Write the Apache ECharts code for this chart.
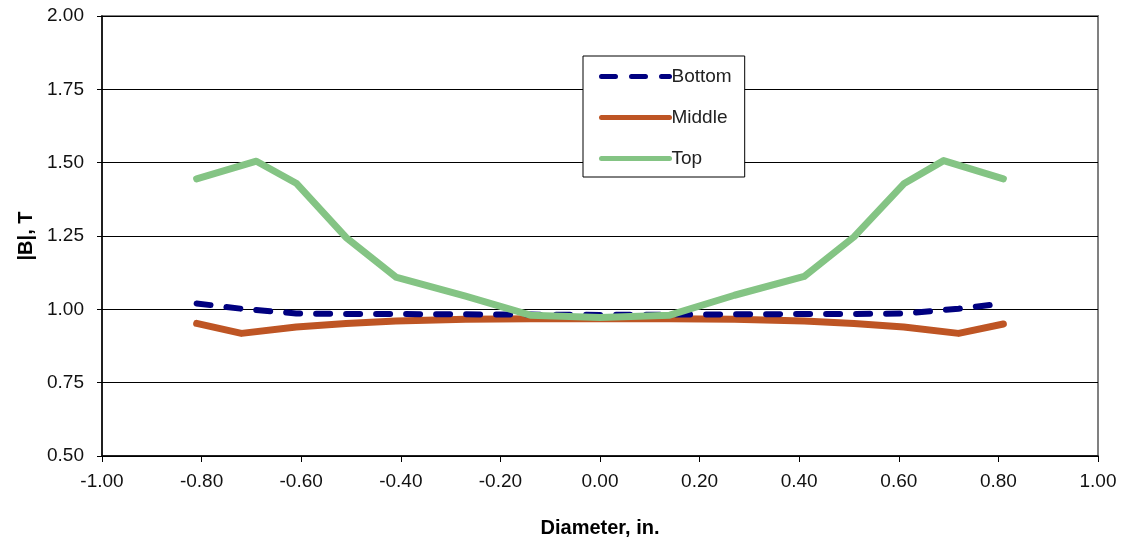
<!DOCTYPE html>
<html>
<head>
<meta charset="utf-8">
<script src="https://cdn.jsdelivr.net/npm/echarts@6/dist/echarts.min.js"></script>
<style>html,body{margin:0;padding:0;background:#fff}#c{width:1125px;height:546px}</style>
</head>
<body>
<div id="c"></div>
<script>
var seriesNames = ['Bottom', 'Middle', 'Top'];
var bottomX = [-0.81,-0.72,-0.61,-0.51,-0.41,-0.27,-0.14,0,0.14,0.27,0.41,0.51,0.61,0.72,0.81];
var bottomY = [1.020,1.002,0.986,0.984,0.984,0.983,0.982,0.981,0.982,0.983,0.984,0.984,0.986,1.002,1.020];
var middleX = [-0.81,-0.72,-0.61,-0.51,-0.41,-0.27,-0.14,0,0.14,0.27,0.41,0.51,0.61,0.72,0.81];
var middleY = [0.952,0.918,0.940,0.952,0.960,0.966,0.968,0.968,0.968,0.966,0.960,0.952,0.940,0.918,0.950];
var topX = [-0.81,-0.69,-0.61,-0.51,-0.41,-0.27,-0.14,0,0.14,0.27,0.41,0.51,0.61,0.69,0.81];
var topY = [1.445,1.505,1.430,1.245,1.110,1.045,0.980,0.972,0.980,1.048,1.112,1.247,1.428,1.507,1.445];
var xTicks = {min:-1, max:1, interval:0.2};
var yTicks = {min:0.5, max:2, interval:0.25};

function pairs(xs, ys){ return xs.map(function(x,i){ return [x, ys[i]]; }); }

var chart = echarts.init(document.getElementById('c'), null, {renderer:'canvas'});
var font = '"Liberation Sans", Arial, sans-serif';
chart.setOption({
  animation: false,
  textStyle: {fontFamily: font},
  grid: {left:102, right:27, top:16, bottom:90, show:true, borderColor:'#808080', borderWidth:2, backgroundColor:'transparent'},
  legend: {
    orient:'vertical', left:583, top:56,
    padding:[11,13,9,16],
    itemWidth:68, itemHeight:14, itemGap:22,
    borderColor:'#000', borderWidth:1, backgroundColor:'#fff',
    itemStyle:{opacity:0},
    lineStyle:{width:5},
    textStyle:{fontSize:19, color:'#222', fontFamily:font, padding:[0,0,0,-3]},
    data: seriesNames
  },
  xAxis: {
    type:'value', min:xTicks.min, max:xTicks.max, interval:xTicks.interval,
    name:'Diameter, in.', nameLocation:'middle', nameGap:62,
    nameTextStyle:{fontSize:20, fontWeight:'bold', color:'#000', fontFamily:font},
    axisLine:{show:true, onZero:false, lineStyle:{color:'#000', width:1.5}},
    axisTick:{show:true, length:6, lineStyle:{color:'#000'}},
    axisLabel:{fontSize:19, color:'#111', margin:16, formatter:function(v){return v.toFixed(2);}},
    splitLine:{show:false}
  },
  yAxis: {
    type:'value', min:yTicks.min, max:yTicks.max, interval:yTicks.interval,
    name:'|B|, T', nameLocation:'middle', nameGap:66, nameRotate:90,
    nameTextStyle:{fontSize:20, fontWeight:'bold', color:'#000', fontFamily:font},
    axisLine:{show:true, onZero:false, lineStyle:{color:'#000', width:1.5}},
    axisTick:{show:true, length:5, lineStyle:{color:'#000'}},
    axisLabel:{fontSize:19, color:'#111', margin:18, formatter:function(v){return v.toFixed(2);}},
    splitLine:{show:true, lineStyle:{color:'#000', width:1}}
  },
  series: [
    {name:'Bottom', type:'line', symbol:'none', data:pairs(bottomX,bottomY),
     lineStyle:{color:'#000080', width:6, type:[14,16], cap:'round', join:'round'}, itemStyle:{color:'#000080'}, z:3},
    {name:'Middle', type:'line', symbol:'none', data:pairs(middleX,middleY),
     lineStyle:{color:'#BE5524', width:7, cap:'round', join:'round'}, itemStyle:{color:'#BE5524'}, z:2},
    {name:'Top', type:'line', symbol:'none', data:pairs(topX,topY),
     lineStyle:{color:'#84C484', width:7, cap:'round', join:'round'}, itemStyle:{color:'#84C484'}, z:4}
  ]
});
</script>
</body>
</html>
